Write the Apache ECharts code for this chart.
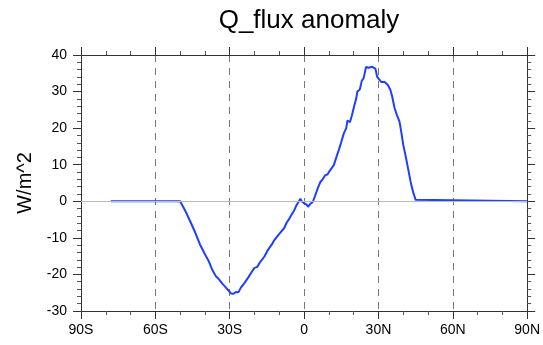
<!DOCTYPE html>
<html>
<head>
<meta charset="utf-8">
<script src="https://cdn.jsdelivr.net/npm/echarts@6/dist/echarts.min.js"></script>
<style>
  html, body { margin: 0; padding: 0; background: #fff; }
  #chart { width: 543px; height: 345px; }
</style>
</head>
<body>
<div id="chart"></div>
<script>
// latitude (deg, negative = south) and Q_flux anomaly (W/m^2)
var lat = [-78, -50, -48, -46, -44, -42, -40, -38.5, -37, -35.5, -34.5, -33, -31.5, -30.5,
  -29.5, -28.5, -27.5, -26.5, -25.5, -24, -22.5, -21, -20, -19, -17.5, -16, -14.5, -13,
  -12, -10.5, -9.5, -8, -7, -6, -5, -4, -3, -2, -1.5, -1, 0, 1, 1.6, 2.5, 3.5, 4.5,
  5.5, 6.5, 7.5, 8.5, 9.5, 10.2, 11, 12, 13, 14, 15, 16, 17, 17.5, 18.5, 19.3, 20.2,
  21, 21.5, 22.5, 23.3, 24, 25, 26, 26.8, 27.5, 28.2, 28.8, 29.5, 30.3, 31.2, 32.5,
  33.8, 34.8, 35.5, 36.5, 37.5, 38.5, 39.2, 40, 41, 42, 43, 44, 45, 45.7, 90];
var qflux = [0, 0, -2.5, -5.4, -8.4, -11.8, -14.5, -16.3, -18.8, -20.6, -21.2, -22.5, -23.6, -24.4,
  -25.2, -25.3, -24.8, -24.9, -23.6, -22.3, -20.8, -19.2, -18.2, -18.0, -16.4, -15.1, -13.2, -11.8,
  -10.6, -9.3, -8.5, -7.3, -5.8, -4.8, -3.6, -2.5, -1.0, 0.1, 0.7, 0.0, -0.5, -0.9, -1.5, -0.7, -0.2, 1.6,
  3.5, 5.2, 6.0, 7.1, 7.4, 8.2, 8.0, 9.9, 12.0, 14.0, 16.2, 18.5, 20.0, 22.1, 21.6, 23.5, 26.0,
  28.0, 30.0, 30.6, 33.0, 33.6, 36.7, 36.5, 36.3, 36.8, 37.0, 36.2, 34.0, 33.5, 32.6, 32.6,
  31.8, 30.5, 28.8, 25.5, 23.5, 21.8, 19.0, 15.5, 12.3, 8.8, 5.3, 2.5, 0.4, 0, 0];

var xTicks = [-90, -60, -30, 0, 30, 60, 90];
var xTickLabels = ['90S', '60S', '30S', '0', '30N', '60N', '90N'];

var points = [];
for (var i = 0; i < lat.length; i++) {
  points.push([lat[i], qflux[i]]);
}

var font = 'Liberation Sans, Arial, Helvetica, sans-serif';

function xLabel(v) {
  var k = xTicks.indexOf(v);
  return k >= 0 ? xTickLabels[k] : '';
}

function xAxisCfg(pos, labels) {
  return {
    type: 'value', position: pos, min: -90, max: 90, interval: 30,
    axisLine: { show: true, onZero: false, lineStyle: { color: '#333', width: 1 } },
    axisTick: { show: true, inside: false, length: 8, lineStyle: { color: '#333' } },
    minorTick: { show: true, splitNumber: 3, length: 4, lineStyle: { color: '#555' } },
    axisLabel: { show: labels, formatter: xLabel, color: '#000', fontSize: 14, fontFamily: font, margin: 12 },
    splitLine: { show: labels, lineStyle: { color: '#777', type: [7, 6], width: 1 } }
  };
}

function yAxisCfg(pos, labels) {
  return {
    type: 'value', position: pos, min: -30, max: 40, interval: 10,
    name: labels ? 'W/m^2' : '', nameLocation: 'middle', nameGap: 46, nameRotate: 90,
    nameTextStyle: { color: '#000', fontSize: 20, fontFamily: font },
    axisLine: { show: true, onZero: false, lineStyle: { color: '#333', width: 1 } },
    axisTick: { show: true, inside: false, length: 8, lineStyle: { color: '#333' } },
    minorTick: { show: true, splitNumber: 5, length: 4, lineStyle: { color: '#555' } },
    axisLabel: { show: labels, color: '#000', fontSize: 14, fontFamily: font, margin: 14 },
    splitLine: { show: false }
  };
}

var chart = echarts.init(document.getElementById('chart'));
chart.setOption({
  animation: false,
  title: {
    text: 'Q_flux anomaly', left: 304, top: 3, textAlign: 'center',
    textStyle: { color: '#000', fontSize: 26, fontWeight: 'normal', fontFamily: font }
  },
  grid: { left: 81, right: 14, top: 55, bottom: 34 },
  xAxis: [xAxisCfg('bottom', true), xAxisCfg('top', false)],
  yAxis: [yAxisCfg('left', true), yAxisCfg('right', false)],
  series: [{
    type: 'line',
    data: points,
    showSymbol: false,
    lineStyle: { color: '#1f3fff', width: 2 },
    markLine: {
      silent: true, symbol: 'none', label: { show: false },
      lineStyle: { color: '#bbb', type: 'solid', width: 1 },
      data: [{ yAxis: 0 }]
    }
  }]
});
</script>
</body>
</html>
